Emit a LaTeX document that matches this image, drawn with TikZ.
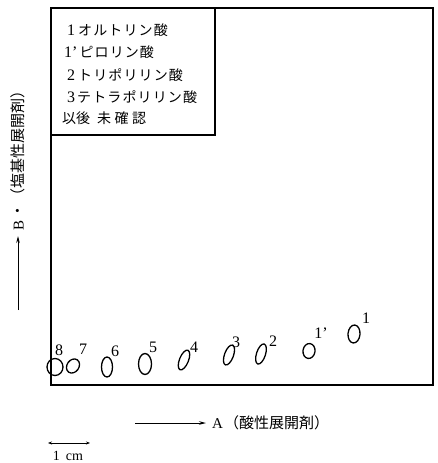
\documentclass[tikz,border=0pt]{standalone}
\usepackage{fontspec}
\setmainfont{Liberation Serif}
\newfontfamily\cjk{Noto Sans CJK JP}
\newfontfamily\cjkls[LetterSpace=8]{Noto Sans CJK JP}
\newfontfamily\cjkwide[LetterSpace=25]{Noto Sans CJK JP}
\usetikzlibrary{arrows.meta,shapes.geometric}
\begin{document}
\begin{tikzpicture}[x=1pt,y=-1pt,
  frame/.style={line width=1.3pt},
  spot/.style={draw, ellipse, inner sep=0pt, line width=1.3pt},
  num/.style={font=\fontsize{16}{16}\selectfont, inner sep=0pt},
  legend/.style={anchor=west, inner sep=0pt, font=\fontsize{14}{14}\selectfont},
  axarrow/.style={line width=0.9pt, -{Stealth[length=7pt,width=3.5pt]}},
  barrow/.style={line width=0.8pt, {Stealth[length=4pt,width=3pt]}-{Stealth[length=4pt,width=3pt]}}]
\useasboundingbox (0,0) rectangle (438,463);
% frame and legend box
\draw[frame] (51,8) rectangle (433,385);
\draw[frame] (51,8) rectangle (215,135);
% legend
\node[legend] (l1) at (67,30) {{\fontsize{16}{16}\selectfont 1}\hspace{3pt}{\cjkls オルトリン酸}};
\node[legend] (l2) at (64,52) {{\fontsize{16}{16}\selectfont 1\textquoteright}\hspace{2pt}{\cjkls ピロリン酸}};
\node[legend] (l3) at (67,75) {{\fontsize{16}{16}\selectfont 2}\hspace{3pt}{\cjkls トリポリリン酸}};
\node[legend] (l4) at (67,97) {{\fontsize{16}{16}\selectfont 3}\hspace{2pt}{\cjkls テトラポリリン酸}};
\node[legend] (l5) at (62,118) {{\cjk 以後}\hspace{7pt}{\cjkwide 未確認}};
% spots
\node[spot, minimum width=16pt, minimum height=17pt] (s8) at (55,367) {};
\node[spot, minimum width=12pt, minimum height=15pt, rotate=-35] (s7) at (73,366) {};
\node[spot, minimum width=11pt, minimum height=20pt] (s6) at (107,367) {};
\node[spot, minimum width=13pt, minimum height=21pt] (s5) at (145,364) {};
\node[spot, minimum width=9pt, minimum height=21pt, rotate=-22] (s4) at (184,360) {};
\node[spot, minimum width=9pt, minimum height=21pt, rotate=-20] (s3) at (229,355) {};
\node[spot, minimum width=9pt, minimum height=21pt, rotate=-18] (s2) at (261,354) {};
\node[spot, minimum width=12pt, minimum height=15pt, rotate=-8] (s1p) at (309,351) {};
\node[spot, minimum width=12pt, minimum height=18pt, rotate=-5] (s1) at (354,334) {};
% spot labels
\node[num] (n8) at (59,350) {8};
\node[num] (n7) at (83,349) {7};
\node[num] (n6) at (115,351) {6};
\node[num] (n5) at (153,347) {5};
\node[num] (n4) at (194,347) {4};
\node[num] (n3) at (236,342) {3};
\node[num] (n2) at (273,341) {2};
\node[num] (n1p) at (321,333) {1\textquoteright};
\node[num] (n1) at (366,318) {1};
% B axis
\coordinate (b0) at (18,310);
\coordinate (b1) at (18,236);
\draw[axarrow] (b0) -- (b1);
\node[rotate=90, anchor=west, inner sep=0pt, font=\fontsize{15}{15}\selectfont] (blab) at (18,231) {B\,{\cjk ・（塩基性展開剤）}};
% A axis
\coordinate (a0) at (135,423);
\coordinate (a1) at (206,423);
\draw[axarrow] (a0) -- (a1);
\node[anchor=west, inner sep=0pt, font=\fontsize{15}{15}\selectfont] (alab) at (212,423) {A\hspace{1pt}{\cjk （酸性展開剤）}};
% scale bar
\coordinate (c0) at (48,443);
\coordinate (c1) at (90,443);
\draw[barrow] (c0) -- (c1);
\node[inner sep=0pt, font=\fontsize{14}{14}\selectfont] (cm) at (68,456) {1\hspace{6pt}cm};
\end{tikzpicture}
\end{document}
